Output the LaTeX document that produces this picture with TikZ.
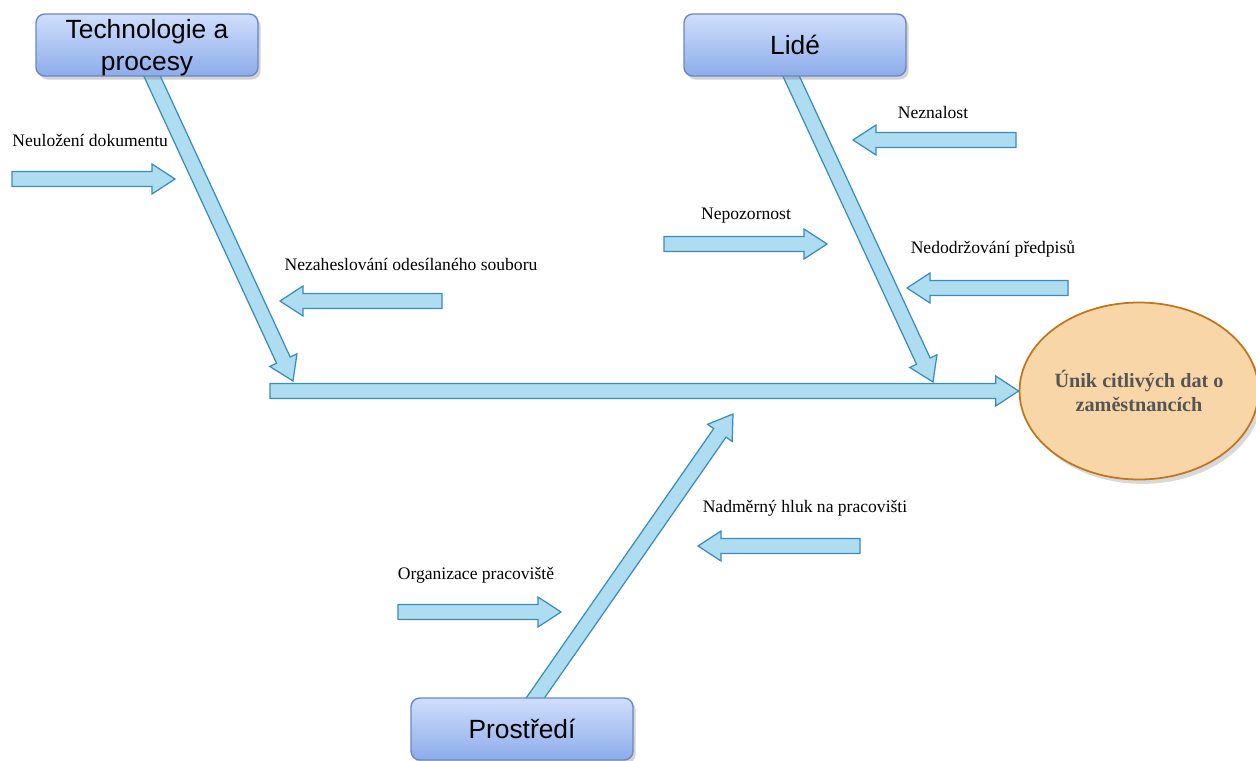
\documentclass[tikz,border=0pt]{standalone}
\usepackage{fontspec}
\setmainfont{Liberation Serif}
\newfontfamily\boxfont{Liberation Sans}
\usetikzlibrary{calc,shapes.geometric,shadows,backgrounds}

\definecolor{bonefill}{RGB}{174,220,240}
\definecolor{boneline}{RGB}{58,140,188}
\definecolor{boxtop}{RGB}{208,222,252}
\definecolor{boxbottom}{RGB}{140,172,234}
\definecolor{boxline}{RGB}{105,135,200}
\definecolor{effectfill}{RGB}{249,214,168}
\definecolor{effectline}{RGB}{192,118,30}
\definecolor{effecttext}{RGB}{85,85,85}

% block arrow from #1 to #2
\newcommand{\fatarrow}[2]{%
  \path ($(#2)!0.46cm!(#1)$) coordinate (neck);
  \filldraw[bone] ($(#1)!0.15cm!90:(#2)$) -- ($(neck)!0.15cm!-90:(#1)$)
    -- ($(neck)!0.3cm!-90:(#1)$) -- (#2) -- ($(neck)!0.3cm!90:(#1)$)
    -- ($(neck)!0.15cm!90:(#1)$) -- ($(#1)!0.15cm!-90:(#2)$) -- cycle;}

\begin{document}
\begin{tikzpicture}[
        x=0.02cm, y=-0.02cm,
        bone/.style={fill=bonefill, draw=boneline, line width=0.7pt},
        category/.style={rectangle, rounded corners=5pt, draw=boxline, line width=0.8pt,
            top color=boxtop, bottom color=boxbottom, minimum width=4.44cm, minimum height=1.24cm,
            inner sep=0pt, align=center, font=\boxfont\fontsize{15}{18}\selectfont,
            drop shadow={shadow xshift=1.5pt, shadow yshift=-2pt, opacity=0.35}},
        effect/.style={ellipse, draw=effectline, line width=1pt, fill=effectfill,
            minimum width=4.64cm, minimum height=3.54cm, inner sep=0pt, align=center,
            text=effecttext, font=\bfseries\fontsize{11.5}{13.6}\selectfont,
            drop shadow={shadow xshift=2pt, shadow yshift=-2.5pt, opacity=0.3}},
        cause/.style={font=\fontsize{10}{12}\selectfont, inner sep=0pt}
    ]
    \useasboundingbox (0,0) rectangle (1256,760);

    % categories and effect
    \node[category, text depth=0pt] (tech) at (147,45) {Technologie a\\procesy};
    \node[category] (lide) at (795,45) {Lidé};
    \node[category] (env) at (522,729) {Prostředí};
    \node[effect] (effect) at (1139,391) {Únik citlivých dat o\\zaměstnancích};

    % bone ends
    \coordinate (spine) at (270,391);
    \coordinate (techroot) at (140,50);
    \coordinate (techtip) at (293,381);
    \coordinate (lideroot) at (779,50);
    \coordinate (lidetip) at (933,382);
    \coordinate (envroot) at (513,730);
    \coordinate (envtip) at (733,414);

    \begin{scope}[on background layer]
        \fatarrow{techroot}{techtip}
        \fatarrow{lideroot}{lidetip}
        \fatarrow{envroot}{envtip}
    \end{scope}
    \fatarrow{spine}{effect.west}

    % causes
    \node[cause, anchor=west] (neulozeni) at (12,140) {Neuložení dokumentu};
    \node[cause] (nezaheslovani) at (411,264) {Nezaheslování odesílaného souboru};
    \node[cause] (nepozornost) at (746,216) {Nepozornost};
    \node[cause] (neznalost) at (933,112) {Neznalost};
    \node[cause] (nedodrzovani) at (993,249) {Nedodržování předpisů};
    \node[cause] (hluk) at (805,508) {Nadměrný hluk na pracovišti};
    \node[cause] (organizace) at (476,575) {Organizace pracoviště};

    \coordinate (neulozeniS) at (12,179);
    \coordinate (neulozeniE) at (175,179);
    \coordinate (nezaheslovaniS) at (442,301);
    \coordinate (nezaheslovaniE) at (280,301);
    \coordinate (nepozornostS) at (664,244);
    \coordinate (nepozornostE) at (827,244);
    \coordinate (neznalostS) at (1016,140);
    \coordinate (neznalostE) at (853,140);
    \coordinate (nedodrzovaniS) at (1068,288);
    \coordinate (nedodrzovaniE) at (907,288);
    \coordinate (hlukS) at (860,546);
    \coordinate (hlukE) at (698,546);
    \coordinate (organizaceS) at (398,612);
    \coordinate (organizaceE) at (561,612);

    \fatarrow{neulozeniS}{neulozeniE}
    \fatarrow{nezaheslovaniS}{nezaheslovaniE}
    \fatarrow{nepozornostS}{nepozornostE}
    \fatarrow{neznalostS}{neznalostE}
    \fatarrow{nedodrzovaniS}{nedodrzovaniE}
    \fatarrow{hlukS}{hlukE}
    \fatarrow{organizaceS}{organizaceE}
\end{tikzpicture}
\end{document}
